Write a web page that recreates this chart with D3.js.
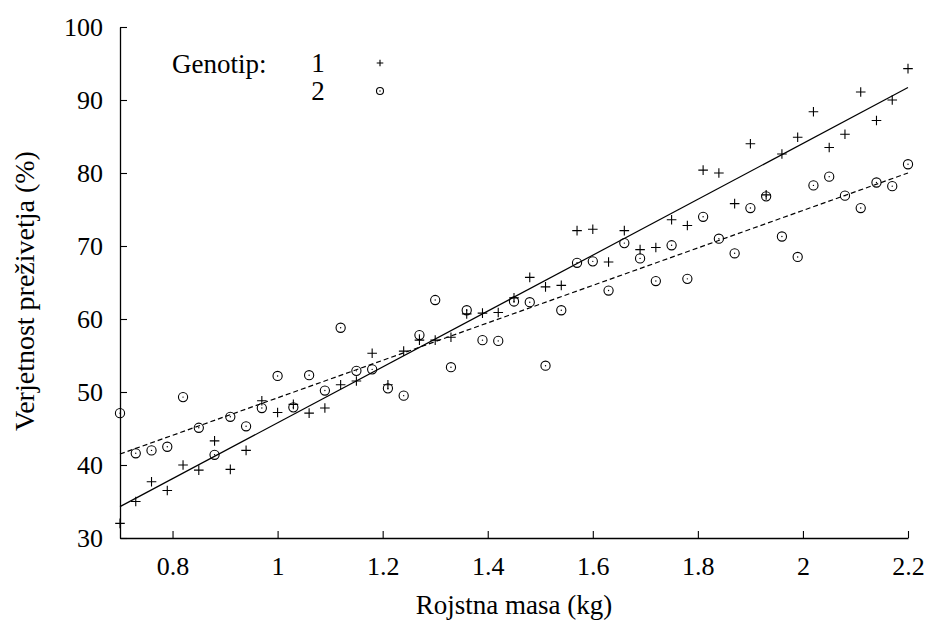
<!DOCTYPE html>
<html>
<head>
<meta charset="utf-8">
<script src="https://cdn.jsdelivr.net/npm/d3@7"></script>
<style>
  body { margin: 0; background: white; }
  svg text { font-family: "Liberation Serif", "Times New Roman", Times, "Nimbus Roman", "DejaVu Serif", serif !important; fill: black; }
</style>
</head>
<body>
<div id="main_div"></div>
<script>
var SVG_WIDTH = 929;
var SVG_HEIGHT = 624;

var PLOT_LEFT = 120;
var PLOT_RIGHT = 908;
var PLOT_TOP = 27;
var PLOT_BOTTOM = 538;

// Birth mass (kg), same for both genotypes
var masses = [];
var MASS_START = 0.70, MASS_STEP = 0.03, MASS_COUNT = 51;
for (var k = 0; k < MASS_COUNT; k++) masses.push(+(MASS_START + k * MASS_STEP).toFixed(2));

// Survival probability (%), genotype 1 (plus marker)
var genotype1 = [32.0, 35.0, 37.7, 36.5, 40.0, 39.3, 43.3, 39.4, 42.0, 48.8,
                 47.2, 48.3, 47.1, 47.8, 51.0, 51.5, 55.3, 51.0, 55.6, 57.1,
                 57.1, 57.5, 60.7, 60.8, 60.9, 62.9, 65.7, 64.4, 64.6, 72.1,
                 72.3, 67.8, 72.1, 69.5, 69.8, 73.6, 72.8, 80.4, 80.0, 75.8,
                 84.0, 77.0, 82.6, 84.9, 88.4, 83.5, 85.3, 91.1, 87.2, 90.0,
                 94.3];

// Survival probability (%), genotype 2 (circle marker)
var genotype2 = [47.1, 41.6, 42.0, 42.5, 49.3, 45.1, 41.4, 46.6, 45.3, 47.8,
                 52.2, 47.9, 52.3, 50.2, 58.8, 52.9, 53.1, 50.5, 49.5, 57.8,
                 62.6, 53.4, 61.2, 57.1, 57.0, 62.4, 62.3, 53.6, 61.2, 67.7,
                 67.9, 63.9, 70.4, 68.3, 65.2, 70.1, 65.5, 74.0, 71.0, 69.0,
                 75.2, 76.8, 71.3, 68.5, 78.3, 79.5, 76.9, 75.2, 78.7, 78.2,
                 81.2];

// Fitted lines [intercept, slope]
var fit1 = [7.51, 38.27];
var fit2 = [23.53, 25.67];

var xTicks = [0.8, 1, 1.2, 1.4, 1.6, 1.8, 2, 2.2];
var yTicks = [30, 40, 50, 60, 70, 80, 90, 100];
var legendLabels = ["1", "2"];


function drawPlus(sel, cx, cy, h) {
  sel.append("path")
       .attr("d", "M" + (cx - h) + "," + cy + "H" + (cx + h) + "M" + cx + "," + (cy - h) + "V" + (cy + h))
       .style("stroke", "black")
       .style("stroke-width", 1.1)
       .style("fill", "none");
}

function drawDotCircle(sel, cx, cy, r) {
  sel.append("circle")
       .attr("cx", cx).attr("cy", cy).attr("r", r)
       .style("fill", "none")
       .style("stroke", "black")
       .style("stroke-width", 1.1);
  sel.append("circle")
       .attr("cx", cx).attr("cy", cy).attr("r", 0.7)
       .style("fill", "black");
}


function initialize() {

  var svg = d3.select("#main_div").append("svg")
                .attr("width", SVG_WIDTH)
                .attr("height", SVG_HEIGHT);

  var x = d3.scaleLinear().domain([0.7, 2.2]).range([PLOT_LEFT, PLOT_RIGHT]);
  var y = d3.scaleLinear().domain([30, 100]).range([PLOT_BOTTOM, PLOT_TOP]);

  // ---------------- axes ----------------
  var xAxis = svg.append("g")
                  .attr("transform", "translate(0," + PLOT_BOTTOM + ")")
                  .call(d3.axisBottom(x).tickValues(xTicks).tickSizeInner(-7).tickSizeOuter(0).tickPadding(18)
                          .tickFormat(function(d) { return d3.format("")(d); }));

  var yAxis = svg.append("g")
                  .attr("transform", "translate(" + PLOT_LEFT + ",0)")
                  .call(d3.axisLeft(y).tickValues(yTicks).tickSizeInner(-7).tickSizeOuter(0).tickPadding(17));

  svg.selectAll("g").attr("font-family", null);
  svg.selectAll(".domain").style("stroke", "black").style("stroke-width", 1.3);
  svg.selectAll(".tick line").style("stroke", "black").style("stroke-width", 1.1);
  svg.selectAll(".tick text").style("font-size", "26px");
  xAxis.selectAll(".tick text").attr("y", 17).attr("dy", "0.75em");

  // axis titles
  svg.append("text")
       .attr("x", (PLOT_LEFT + PLOT_RIGHT) / 2)
       .attr("y", 614)
       .attr("text-anchor", "middle")
       .style("font-size", "27px")
       .text("Rojstna masa (kg)");

  svg.append("text")
       .attr("transform", "translate(34,291) rotate(-90)")
       .attr("text-anchor", "middle")
       .style("font-size", "28px")
       .text("Verjetnost preživetja (%)");

  // ---------------- fitted lines ----------------
  var ends = x.domain();
  var line = d3.line()
               .x(function(d) { return x(d[0]); })
               .y(function(d) { return y(d[1]); });

  svg.append("path")
       .attr("d", line(ends.map(function(m) { return [m, fit1[0] + fit1[1] * m]; })))
       .style("fill", "none")
       .style("stroke", "black")
       .style("stroke-width", 1.2);

  svg.append("path")
       .attr("d", line(ends.map(function(m) { return [m, fit2[0] + fit2[1] * m]; })))
       .style("fill", "none")
       .style("stroke", "black")
       .style("stroke-width", 1.2)
       .style("stroke-dasharray", "5,3");

  // ---------------- points ----------------
  var pts = svg.append("g");
  masses.forEach(function(m, i) {
    drawDotCircle(pts, x(m), y(genotype2[i]), 4.6);
    drawPlus(pts, x(m), y(genotype1[i]), 4.8);
  });

  // ---------------- legend ----------------
  var legend = svg.append("g");
  legend.append("text")
          .attr("x", 172)
          .attr("y", 73)
          .style("font-size", "27px")
          .text("Genotip:");

  legend.selectAll(".leg_label")
          .data(legendLabels).enter()
        .append("text")
          .attr("class", "leg_label")
          .attr("x", 318)
          .attr("y", function(d, i) { return 72 + i * 28; })
          .attr("text-anchor", "middle")
          .style("font-size", "27px")
          .text(function(d) { return d; });

  drawPlus(legend, 380, 63, 3.3);
  drawDotCircle(legend, 380, 91, 3.5);
}

initialize();
</script>
</body>
</html>
